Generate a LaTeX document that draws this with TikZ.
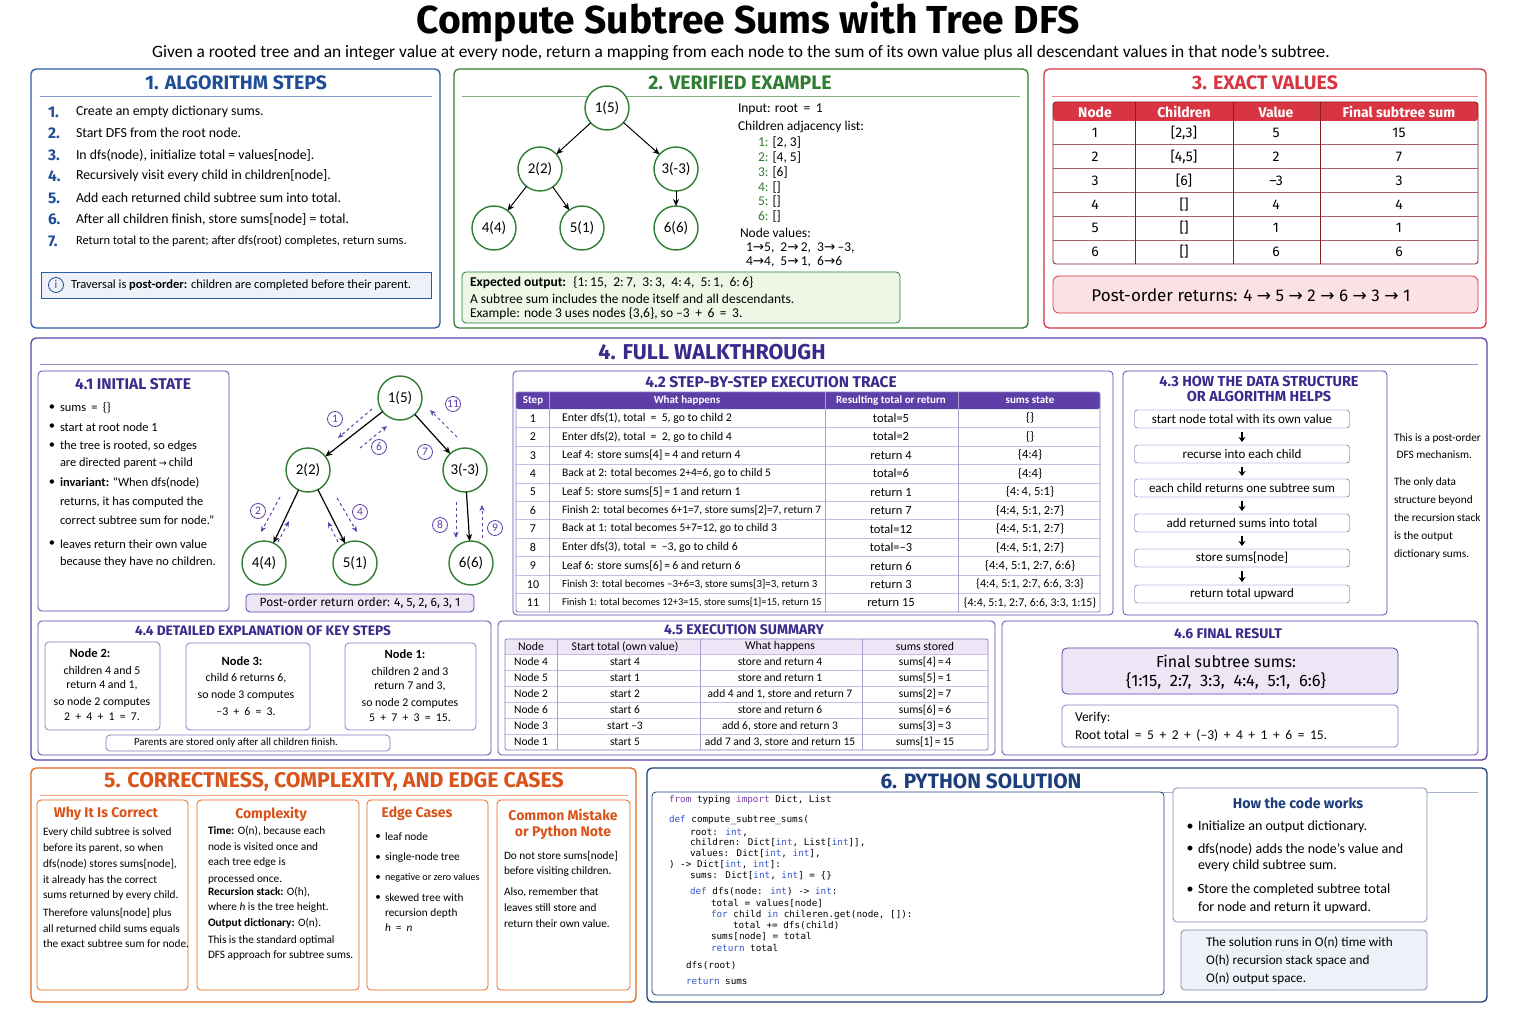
\documentclass[tikz,border=0pt]{standalone}
\usepackage{fontspec}
\setmainfont{Carlito}
\newfontfamily\headfont[Ligatures=TeX]{Fira Sans}
\newfontfamily\codefont{DejaVu Sans Mono}
\newfontfamily\symfont{DejaVu Sans}
\usetikzlibrary{arrows.meta,positioning,calc}

\definecolor{bluePan}{HTML}{2A5CAA}
\definecolor{blueHead}{HTML}{1F4E96}
\definecolor{greenPan}{HTML}{2E7D32}
\definecolor{greenFill}{HTML}{EEF6E6}
\definecolor{redPan}{HTML}{D93442}
\definecolor{redFill}{HTML}{FBE1E3}
\definecolor{purplePan}{HTML}{5E3FA8}
\definecolor{purpleHead}{HTML}{3A2A8C}
\definecolor{purpleFill}{HTML}{ECE6F7}
\definecolor{orangePan}{HTML}{E8661C}
\definecolor{orangeHead}{HTML}{D9531A}
\definecolor{navyPan}{HTML}{1C3F7C}
\definecolor{codeKey}{HTML}{7A3FA0}
\definecolor{codeBlue}{HTML}{3556C8}

\newcommand\fs[1]{\fontsize{#1}{#1}\selectfont}
\newcommand\rarr{{\symfont →}}
\newcommand\kw[1]{\textcolor{codeKey}{#1}}
\newcommand\kb[1]{\textcolor{codeBlue}{#1}}
\newcommand\op[1]{\hspace{2.5pt}#1\hspace{2.5pt}}

\tikzset{
    panel/.style={draw=#1, line width=1.3pt, rounded corners=5pt},
    box/.style={draw=#1, line width=0.8pt, rounded corners=4pt},
    head/.style={font=\headfont\bfseries\fs{19.5}, text=#1},
    sub/.style={font=\headfont\bfseries\fs{15.5}, text=#1},
    txt/.style={anchor=west, font=\fs{13.5}},
    code/.style={anchor=west, font=\codefont\fs{9.3}},
    tnode/.style={circle, draw=greenPan, line width=1.4pt, fill=white, minimum size=44pt, font=\fs{15}},
    tedge/.style={-{Stealth[length=7pt,width=6pt]}, line width=1pt},
    walk/.style={purplePan, dashed, line width=1pt, -{Stealth[length=6pt,width=5pt]}},
    stepnum/.style={circle, draw=purplePan, text=purplePan, line width=0.8pt, minimum size=15pt, font=\fs{11.5}},
    flow/.style={draw=purplePan, rounded corners=3pt, fill=white, minimum width=215pt, minimum height=18pt, font=\fs{13}},
    flowarr/.style={-{Stealth[length=5pt,width=7pt]}, line width=1.4pt}
}

\begin{document}
\begin{tikzpicture}[x=1pt, y=-1pt, every node/.style={inner sep=0pt, outer sep=0pt}]
    \useasboundingbox[fill=white] (0,0) rectangle (1536,1024);

    % title
    \node[font=\headfont\bfseries\fs{39}] (title) at (748,22) {Compute Subtree Sums with Tree DFS};
    \node[font=\fs{17.4}] (subtitle) at (741,53) {Given a rooted tree and an integer value at every node, return a mapping from each node to the sum of its own value plus all descendant values in that node’s subtree.};

    % 1. algorithm steps
    \draw[panel=bluePan] (31,69) rectangle (440,328);
    \node[head=blueHead] (h1) at (236,83) {1. ALGORITHM STEPS};
    \draw[bluePan!60, line width=0.8pt] (40,96) -- (432,96);
    \foreach \n/\y/\z/\t in {1/112/13.8/{Create an empty dictionary sums.}, 2/133/13.8/{Start DFS from the root node.},
        3/155/13.8/{In dfs(node), initialize total = values[node].}, 4/176/13.8/{Recursively visit every child in children[node].},
        5/198/13.8/{Add each returned child subtree sum into total.}, 6/219/13.8/{After all children finish, store sums[node] = total.},
        7/241/12.4/{Return total to the parent; after dfs(root) completes, return sums.}}
    {
        \node[anchor=west, font=\headfont\bfseries\fs{15.5}, text=blueHead] (n\n) at (48,\y) {\n.};
        \node[txt, font=\fs{\z}] (t\n) at (76,\y) {\t};
    }
    \draw[draw=bluePan, line width=0.8pt, fill=bluePan!8] (41,272) rectangle (431,298);
    \node[circle, draw=blueHead, line width=0.8pt, minimum size=15pt, font=\fs{11.5}, text=blueHead] (info) at (56,285) {i};
    \node[txt, font=\fs{12.5}] (infotxt) at (71,285) {Traversal is \textbf{post-order:} children are completed before their parent.};

    % 2. verified example
    \draw[panel=greenPan] (454,69) rectangle (1028,328);
    \node[head=greenPan] (h2) at (740,83) {2. VERIFIED EXAMPLE};
    \draw[greenPan!60, line width=0.8pt] (462,96) -- (1020,96);
    \node[tnode] (a1) at (607,108) {1(5)};
    \node[tnode] (a2) at (540,169) {2(2)};
    \node[tnode] (a3) at (676,169) {3(-3)};
    \node[tnode] (a4) at (494,228) {4(4)};
    \node[tnode] (a5) at (582,228) {5(1)};
    \node[tnode] (a6) at (676,228) {6(6)};
    \foreach \p/\c in {a1/a2, a1/a3, a2/a4, a2/a5, a3/a6}
        \draw[tedge] (\p) -- (\c);
    \node[txt] (inp) at (738,109) {Input: root \op{=} 1};
    \node[txt] (adj) at (738,127) {Children adjacency list:};
    \foreach \k/\y/\v in {1/143/{[2, 3]}, 2/158/{[4, 5]}, 3/173/{[6]}, 4/188/{[]}, 5/202/{[]}, 6/217/{[]}}
        \node[txt] (adj\k) at (758,\y) {\textcolor{greenPan}{\k:} \v};
    \node[txt] (nv) at (740,233) {Node values:};
    \node[txt] (nv1) at (746,248) {1\rarr5,\ \ 2\rarr\,2,\ \ 3\rarr\,--3,};
    \node[txt] (nv2) at (746,262) {4\rarr4,\ \ 5\rarr\,1,\ \ 6\rarr6};
    \draw[box=greenPan, fill=greenFill] (462,272) rectangle (900,323);
    \node[txt] (exp1) at (470,283) {\textbf{Expected output:} \ \{1:\,15, \ 2:\,7, \ 3:\,3, \ 4:\,4, \ 5:\,1, \ 6:\,6\}};
    \node[txt] (exp2) at (470,299) {A subtree sum includes the node itself and all descendants.};
    \node[txt] (exp3) at (470,314) {Example: node 3 uses nodes \{3,6\}, so --3 \op{+} 6 \op{=} 3.};

    % 3. exact values
    \draw[panel=redPan] (1044,69) rectangle (1486,328);
    \node[head=redPan] (h3) at (1265,83) {3. EXACT VALUES};
    \draw[redPan!60, line width=0.8pt] (1052,96) -- (1478,96);
    \fill[redPan, rounded corners=3pt] (1053,102) rectangle (1478,121);
    \foreach \i in {1,...,5}
        \draw[redPan!40!gray, line width=0.6pt] (1053,{121+23.8*\i}) -- (1478,{121+23.8*\i});
    \foreach \x in {1135,1233,1320}
        \draw[redPan!60!black, line width=0.7pt] (\x,102) -- (\x,264);
    \draw[redPan!60!black, line width=0.8pt, rounded corners=3pt] (1053,102) rectangle (1478,264);
    \foreach \x/\t [count=\k] in {1095/Node, 1184/Children, 1276/Value, 1399/Final subtree sum}
        \node[font=\headfont\bfseries\fs{14}, text=white] (th\k) at (\x,112) {\t};
    \foreach \n/\c/\v/\s in {1/{[2,3]}/5/15, 2/{[4,5]}/2/7, 3/{[6]}/--3/3, 4/{[]}/4/4, 5/{[]}/1/1, 6/{[]}/6/6}
    {
        \node[font=\headfont\fs{14}] (ra\n) at (1095,{121+23.8*\n-11.9}) {\n};
        \node[font=\headfont\fs{14}] (rb\n) at (1184,{121+23.8*\n-11.9}) {\c};
        \node[font=\headfont\fs{14}] (rc\n) at (1276,{121+23.8*\n-11.9}) {\v};
        \node[font=\headfont\fs{14}] (rd\n) at (1399,{121+23.8*\n-11.9}) {\s};
    }
    \draw[box=redPan, fill=redFill, rounded corners=6pt] (1053,276) rectangle (1478,313);
    \node[font=\headfont\fs{17}] (po) at (1251,295) {Post-order returns: 4 \rarr\ 5 \rarr\ 2 \rarr\ 6 \rarr\ 3 \rarr\ 1};

    % 4. full walkthrough
    \draw[panel=purplePan] (31,338) rectangle (1487,760);
    \node[head=purpleHead, font=\headfont\bfseries\fs{21.5}] (h4) at (712,352) {4. FULL WALKTHROUGH};
    \draw[purplePan!60, line width=0.8pt] (40,364) -- (1478,364);

    % 4.1 initial state
    \draw[box=purplePan] (38,371) rectangle (229,611);
    \node[sub=purpleHead] (h41) at (133,384) {4.1 INITIAL STATE};
    \foreach \y/\t [count=\k] in {408/{sums \op{=} \{\}}, 427/{start at root node 1}, 446/{the tree is rooted, so edges},
        483/{\textbf{invariant:} “When dfs(node)}, 544/{leaves return their own value}}
    {
        \node[font=\fs{12.4}] (bu\k) at (52,\y) {\textbullet};
        \node[txt, font=\fs{12.4}] (bt\k) at (60,\y) {\t};
    }
    \foreach \y/\t [count=\k] in {463/{are directed parent\,{\symfont\fs{9.5}→}\,child}, 502/{returns, it has computed the},
        520/{correct subtree sum for node.”}, 562/{because they have no children.}}
        \node[txt, font=\fs{12.4}] (bc\k) at (60,\y) {\t};

    \node[tnode] (b1) at (400,398) {1(5)};
    \node[tnode] (b2) at (308,470) {2(2)};
    \node[tnode] (b3) at (465,470) {3(-3)};
    \node[tnode] (b4) at (264,563) {4(4)};
    \node[tnode] (b5) at (355,563) {5(1)};
    \node[tnode] (b6) at (471,563) {6(6)};
    \foreach \p/\c in {b1/b2, b1/b3, b2/b4, b2/b5, b3/b6}
        \draw[tedge, line width=1.2pt] (\p) -- (\c);
    % dfs walk, calls and returns
    \coordinate (w1s) at (372,409);   \coordinate (w1e) at (338,438);
    \coordinate (w6s) at (360,448);   \coordinate (w6e) at (387,426);
    \coordinate (w11s) at (457,437);  \coordinate (w11e) at (430,410);
    \coordinate (w2s) at (280,497);   \coordinate (w2e) at (261,532);
    \coordinate (w3s) at (278,542);   \coordinate (w3e) at (289,521);
    \coordinate (w4s) at (337,498);   \coordinate (w4e) at (357,532);
    \coordinate (w5s) at (338,542);   \coordinate (w5e) at (328,522);
    \coordinate (w8s) at (456,502);   \coordinate (w8e) at (456,538);
    \coordinate (w9s) at (482,538);   \coordinate (w9e) at (482,505);
    \foreach \w in {1,6,11,2,3,4,5,8,9}
        \draw[walk] (w\w s) -- (w\w e);
    \foreach \k/\x/\y in {1/335/419, 6/379/447, 11/453/404, 7/425/452, 2/258/511, 4/360/512, 8/440/525, 9/495/528}
        \node[stepnum] (l\k) at (\x,\y) {\k};
    \draw[box=purplePan, fill=purpleFill] (246,594) rectangle (474,612);
    \node[font=\headfont\fs{12}] (pro) at (360,603) {Post-order return order: 4, 5, 2, 6, 3, 1};

    % 4.2 trace
    \draw[box=purplePan] (513,371) rectangle (1113,615);
    \node[sub=purpleHead] (h42) at (771,382) {4.2 STEP-BY-STEP EXECUTION TRACE};
    \fill[purplePan, rounded corners=2pt] (516,392) rectangle (1100,409);
    \foreach \i in {1,...,10}
        \draw[purplePan!35, line width=0.6pt] (516,{409+18.45*\i}) -- (1100,{409+18.45*\i});
    \foreach \x in {549,825,958}
        \draw[purplePan!50, line width=0.6pt] (\x,392) -- (\x,612);
    \draw[purplePan!70, line width=0.8pt, rounded corners=2pt] (516,392) rectangle (1100,612);
    \foreach \x/\t [count=\k] in {533/Step, 687/What happens, 891/Resulting total or return, 1030/sums state}
        \node[font=\bfseries\fs{11}, text=white] (tr\k) at (\x,400.5) {\t};
    \foreach \s/\w/\r/\m/\z/\u in {
        1/{Enter dfs(1), total \op{=} 5, go to child 2}/{total=5}/{\{\}}/11.8/12.5,
        2/{Enter dfs(2), total \op{=} 2, go to child 4}/{total=2}/{\{\}}/11.8/12.5,
        3/{Leaf 4: store sums[4]\,=\,4 and return 4}/{return 4}/{\{4:4\}}/11.8/12.5,
        4/{Back at 2: total becomes 2+4=6, go to child 5}/{total=6}/{\{4:4\}}/11.5/12.5,
        5/{Leaf 5: store sums[5]\,=\,1 and return 1}/{return 1}/{\{4:\,4, 5:1\}}/11.8/12.5,
        6/{Finish 2: total becomes 6+1=7, store sums[2]=7, return 7}/{return 7}/{\{4:4, 5:1, 2:7\}}/11.3/12.5,
        7/{Back at 1: total becomes 5+7=12, go to child 3}/{total=12}/{\{4:4, 5:1, 2:7\}}/11.5/12.5,
        8/{Enter dfs(3), total \op{=} --3, go to child 6}/{total=--3}/{\{4:4, 5:1, 2:7\}}/11.8/12.5,
        9/{Leaf 6: store sums[6]\,=\,6 and return 6}/{return 6}/{\{4:4, 5:1, 2:7, 6:6\}}/11.8/12.5,
        10/{Finish 3: total becomes --3+6=3, store sums[3]=3, return 3}/{return 3}/{\{4:4, 5:1, 2:7, 6:6, 3:3\}}/10.9/12,
        11/{Finish 1: total becomes 12+3=15, store sums[1]=15, return 15}/{return 15}/{\{4:4, 5:1, 2:7, 6:6, 3:3, 1:15\}}/10.4/11.8}
    {
        \node[font=\fs{12}] (sa\s) at (533,{409+18.45*\s-9.2}) {\s};
        \node[anchor=west, font=\fs{\z}] (sb\s) at (562,{409+18.45*\s-9.2}) {\w};
        \node[font=\fs{12.5}] (sc\s) at (891,{409+18.45*\s-9.2}) {\r};
        \node[font=\fs{\u}] (sd\s) at (1030,{409+18.45*\s-9.2}) {\m};
    }

    % 4.3 mechanism
    \draw[box=purplePan] (1123,371) rectangle (1387,615);
    \node[sub=purpleHead, align=center, font=\headfont\bfseries\fontsize{14.5}{15}\selectfont] (h43) at (1259,389) {4.3 HOW THE DATA STRUCTURE\\OR ALGORITHM HELPS};
    \foreach \y/\t [count=\k] in {419/{start node total with its own value}, 454/{recurse into each child},
        488/{each child returns one subtree sum}, 523/{add returned sums into total}, 558/{store sums[node]}, 594/{return total upward}}
        \node[flow] (f\k) at (1242,\y) {\t};
    \foreach \k [evaluate=\k as \j using int(\k+1)] in {1,...,5}
        \draw[flowarr] ([yshift=-4pt]f\k.south) -- ([yshift=3pt]f\j.north);
    \foreach \y/\t [count=\k] in {438/{This is a post-order}, 455/{\ DFS mechanism.}, 482/{The only data}, 500/{structure beyond},
        518/{the recursion stack}, 536/{is the output}, 554/{dictionary sums.}}
        \node[txt, font=\fs{11.3}] (m\k) at (1394,\y) {\t};

    % 4.4 key steps
    \draw[box=purplePan] (38,621) rectangle (491,755);
    \node[sub=purpleHead, font=\headfont\bfseries\fs{13.7}] (h44) at (263,631) {4.4 DETAILED EXPLANATION OF KEY STEPS};
    \draw[box=purplePan!70] (45,642) rectangle (160,730);
    \draw[box=purplePan!70] (186,643) rectangle (310,730);
    \draw[box=purplePan!70] (345,643) rectangle (476,730);
    \node[font=\bfseries\fs{12.5}] (k2) at (90,653) {Node 2:};
    \foreach \y/\t [count=\k] in {670/{children 4 and 5}, 685/{return 4 and 1,}, 702/{so node 2 computes}, 717/{2 \op{+} 4 \op{+} 1 \op{=} 7.}}
        \node[font=\fs{11.8}] (k2l\k) at (102,\y) {\t};
    \node[font=\bfseries\fs{12.5}] (k3) at (242,661) {Node 3:};
    \foreach \y/\t [count=\k] in {678/{child 6 returns 6,}, 695/{so node 3 computes}, 712/{--3 \op{+} 6 \op{=} 3.}}
        \node[font=\fs{11.8}] (k3l\k) at (246,\y) {\t};
    \node[font=\bfseries\fs{12.5}] (k1) at (405,654) {Node 1:};
    \foreach \y/\t [count=\k] in {671/{children 2 and 3}, 686/{return 7 and 3,}, 703/{so node 2 computes}, 718/{5 \op{+} 7 \op{+} 3 \op{=} 15.}}
        \node[font=\fs{11.8}] (k1l\k) at (410,\y) {\t};
    \draw[box=purplePan!70] (106,735) rectangle (390,751);
    \node[font=\fs{10.8}] (knote) at (236,743) {Parents are stored only after all children finish.};

    % 4.5 summary
    \draw[box=purplePan] (498,621) rectangle (995,755);
    \node[sub=purpleHead, font=\headfont\bfseries\fs{14}] (h45) at (744,630) {4.5 EXECUTION SUMMARY};
    \fill[purpleFill] (505,639) rectangle (988,654);
    \foreach \i in {0,...,5}
        \draw[purplePan!35, line width=0.6pt] (505,{654+16*\i}) -- (988,{654+16*\i});
    \foreach \x in {557,700,862}
        \draw[purplePan!50, line width=0.6pt] (\x,639) -- (\x,750);
    \draw[purplePan!70, line width=0.8pt, rounded corners=2pt] (505,639) rectangle (988,750);
    \foreach \x/\t [count=\k] in {531/Node, 625/Start total (own value), 780/What happens, 925/sums stored}
        \node[font=\fs{11.8}] (eh\k) at (\x,646.5) {\t};
    \foreach \n/\a/\w/\s [count=\k] in {4/{start 4}/{store and return 4}/{sums[4]\,=\,4}, 5/{start 1}/{store and return 1}/{sums[5]\,=\,1},
        2/{start 2}/{add 4 and 1, store and return 7}/{sums[2]\,=\,7}, 6/{start 6}/{store and return 6}/{sums[6]\,=\,6},
        3/{start --3}/{add 6, store and return 3}/{sums[3]\,=\,3}, 1/{start 5}/{add 7 and 3, store and return 15}/{sums[1]\,=\,15}}
    {
        \node[font=\fs{11.5}] (ea\k) at (531,{654+16*\k-8}) {Node \n};
        \node[font=\fs{11.5}] (eb\k) at (625,{654+16*\k-8}) {\a};
        \node[font=\fs{11.5}] (ec\k) at (780,{654+16*\k-8}) {\w};
        \node[font=\fs{11.5}] (ed\k) at (925,{654+16*\k-8}) {\s};
    }

    % 4.6 final result
    \draw[box=purplePan] (1002,621) rectangle (1478,755);
    \node[sub=purpleHead, font=\headfont\bfseries\fs{14}] (h46) at (1228,634) {4.6 FINAL RESULT};
    \draw[box=purplePan, fill=purpleFill, rounded corners=5pt] (1062,648) rectangle (1398,694);
    \node[font=\headfont\fs{16}] (fin1) at (1226,661) {Final subtree sums:};
    \node[font=\headfont\fs{16.5}] (fin2) at (1226,681) {\{1:15, \ 2:7, \ 3:3, \ 4:4, \ 5:1, \ 6:6\}};
    \draw[box=purplePan!70] (1062,705) rectangle (1398,747);
    \node[txt] (ver1) at (1075,718) {Verify:};
    \node[txt] (ver2) at (1075,735) {Root total \op{=} 5 \op{+} 2 \op{+} (--3) \op{+} 4 \op{+} 1 \op{+} 6 \op{=} 15.};

    % 5. correctness
    \draw[panel=orangePan] (31,768) rectangle (636,1002);
    \node[head=orangeHead, font=\headfont\bfseries\fs{21.3}] (h5) at (334,782) {5. CORRECTNESS, COMPLEXITY, AND EDGE CASES};
    \draw[orangePan!60, line width=0.8pt] (40,795) -- (628,795);
    \foreach \xa/\xb in {37/188, 197/359, 367/488, 497/630}
        \draw[box=orangePan] (\xa,800) rectangle (\xb,990);
    \node[sub=orangeHead, font=\headfont\bfseries\fs{14}] (c1) at (106,814) {Why It Is Correct};
    \node[sub=orangeHead, font=\headfont\bfseries\fs{14}] (c2) at (271,814) {Complexity};
    \node[sub=orangeHead, font=\headfont\bfseries\fs{14}] (c3) at (417,814) {Edge Cases};
    \node[sub=orangeHead, font=\headfont\bfseries\fs{14}] (c4a) at (563,815) {Common Mistake};
    \node[sub=orangeHead, font=\headfont\bfseries\fs{14}] (c4b) at (563,833) {or Python Note};
    \foreach \y/\t [count=\k] in {832/{Every child subtree is solved}, 848/{before its parent, so when}, 864/{dfs(node) stores sums[node],},
        880/{it already has the correct}, 895/{sums returned by every child.}, 913/{Therefore valuns[node] plus},
        929/{all returned child sums equals}, 944/{the exact subtree sum for node.}}
        \node[txt, font=\fs{11.3}] (cw\k) at (43,\y) {\t};
    \foreach \y/\t [count=\k] in {831/{\textbf{Time:} O(n), because each}, 847/{node is visited once and}, 863/{each tree edge is},
        879/{processed once.}, 892/{\textbf{Recursion stack:} O(h),}, 908/{where \textit{h} is the tree height.},
        923/{\textbf{Output dictionary:} O(n).}, 940/{This is the standard optimal}, 955/{DFS approach for subtree sums.}}
        \node[txt, font=\fs{11.3}] (cc\k) at (208,\y) {\t};
    \foreach \y/\t/\z [count=\k] in {837/{leaf node}/11.3, 858/{single-node tree}/11.3, 878/{negative or zero values}/10.2, 898/{skewed tree with}/11.3}
    {
        \node[font=\fs{11}] (ebu\k) at (378,\y) {\textbullet};
        \node[txt, font=\fs{\z}] (ec\k) at (385,\y) {\t};
    }
    \node[txt, font=\fs{11.3}] (ec5) at (385,913) {recursion depth};
    \node[txt, font=\fs{11.3}] (ec6) at (385,928) {\textit{h} \op{=} \textit{n}};
    \foreach \y/\t [count=\k] in {856/{Do not store sums[node]}, 872/{before visiting children.}, 892/{Also, remember that},
        908/{leaves still store and}, 924/{return their own value.}}
        \node[txt, font=\fs{11.3}] (cm\k) at (504,\y) {\t};

    % 6. python solution
    \draw[panel=navyPan] (647,768) rectangle (1487,1002);
    \node[head=navyPan, font=\headfont\bfseries\fs{20.8}] (h6) at (981,781) {6. PYTHON SOLUTION};
    \draw[navyPan!40, line width=0.8pt] (655,792) -- (1478,792);
    \draw[box=navyPan, fill=white] (652,792) rectangle (1164,995);
    \node[code] (py1) at (669,800) {\kw{from} typing \kw{import} Dict, List};
    \node[code] (py2) at (669,820) {\kb{def} compute\_subtree\_sums(};
    \node[code] (py3) at (690,833) {root: \kb{int},};
    \node[code] (py4) at (690,843) {children: Dict[\kb{int}, List[\kb{int}]],};
    \node[code] (py5) at (690,854) {values: Dict[\kb{int}, \kb{int}],};
    \node[code] (py6) at (669,865) {) -> Dict[\kb{int}, \kb{int}]:};
    \node[code] (py7) at (690,876) {sums: Dict[\kb{int}, \kb{int}] = \{\}};
    \node[code] (py8) at (690,892) {\kb{def} dfs(node: \kb{int}) -> \kb{int}:};
    \node[code] (py9) at (711,904) {total = values[node]};
    \node[code] (py10) at (711,915) {\kb{for} child \kb{in} chileren.get(node, []):};
    \node[code] (py11) at (733,926) {total += dfs(child)};
    \node[code] (py12) at (711,937) {sums[node] = total};
    \node[code] (py13) at (711,948) {\kb{return} total};
    \node[code] (py14) at (686,966) {dfs(root)};
    \node[code] (py15) at (686,981) {\kb{return} sums};

    \draw[box=navyPan!60, fill=white] (1173,788) rectangle (1427,922);
    \node[sub=navyPan, font=\headfont\bfseries\fs{14.2}] (h6b) at (1298,803) {How the code works};
    \foreach \y/\t [count=\k] in {827/{Initialize an output dictionary.}, 849/{dfs(node) adds the node’s value and}, 890/{Store the completed subtree total}}
    {
        \node[font=\fs{14}] (hbu\k) at (1190,\y) {\textbullet};
        \node[txt, font=\fs{14}] (hb\k) at (1198,\y) {\t};
    }
    \node[txt, font=\fs{14}] (hb4) at (1198,866) {every child subtree sum.};
    \node[txt, font=\fs{14}] (hb5) at (1198,908) {for node and return it upward.};
    \draw[box=navyPan!60, fill=bluePan!8] (1181,930) rectangle (1427,990);
    \foreach \y/\t [count=\k] in {943/{The solution runs in O(n) time with}, 961/{O(h) recursion stack space and}, 979/{O(n) output space.}}
        \node[txt, font=\fs{13.2}] (sm\k) at (1206,\y) {\t};
\end{tikzpicture}
\end{document}
